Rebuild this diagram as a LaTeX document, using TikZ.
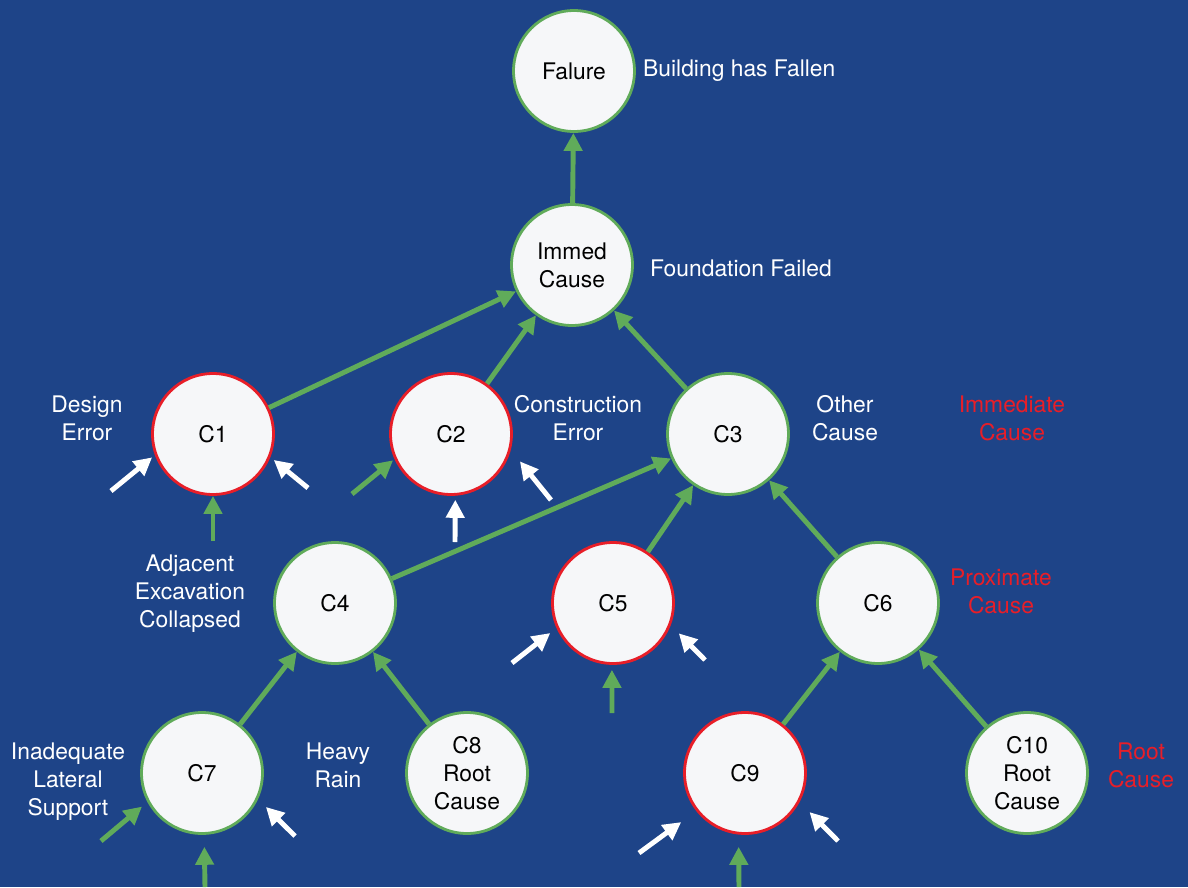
\documentclass[tikz,border=0pt]{standalone}
\usepackage{fontspec}
\setmainfont{TeX Gyre Heros}
\usepackage{tikz}
\usetikzlibrary{arrows.meta}
\usetikzlibrary{positioning}
\definecolor{bgblue}{RGB}{30,68,136}
\definecolor{edgegreen}{RGB}{96,171,90}
\definecolor{causered}{RGB}{232,30,40}
\definecolor{nodefill}{RGB}{246,247,249}
\tikzset{basic cause/.style={draw,circle,
                             fill=nodefill,
                             line width=1.6pt,
                             minimum size=2.42cm,
                             inner sep=0pt,
                             align=center}}
\tikzset{edge/.style={draw,
                      line width=2.8pt,
                      -{Triangle[length=0.36cm,width=0.36cm]}}}
\newcommand{\labfont}{\fontsize{13}{16}\selectfont}

\begin{document}
\begin{tikzpicture}
      [
      x=0.02cm,y=-0.02cm,
      cause/.style={basic cause,draw=#1,font=\labfont},
      note/.style={align=center,text=white,font=\labfont},
      ]

      % background
      \fill [bgblue] (0,0) rectangle (1188,887);
      \useasboundingbox (0,0) rectangle (1188,887);

      % vertices
      \foreach \n/\x/\y/\t/\c in
      {
      F/574/71/Falure/edgegreen,
      I/572/265/{Immed\\Cause}/edgegreen,
      C1/213/434/C1/causered,
      C2/451/434/C2/causered,
      C3/728/434/C3/edgegreen,
      C4/335/603/C4/edgegreen,
      C5/613/603/C5/causered,
      C6/878/603/C6/edgegreen,
      C7/202/773/C7/edgegreen,
      C8/467/773/{C8\\Root\\Cause}/edgegreen,
      C9/745/773/C9/causered,
      C10/1027/773/{C10\\Root\\Cause}/edgegreen}
      {
      \node [cause=\c] (\n) at (\x,\y) {\t};
      }

      % labels
      \node [note,anchor=west] (lF) at (637,71) {Building has Fallen};
      \node [note,anchor=west] (lI) at (644,268) {Foundation Failed};
      \foreach \n/\x/\y/\t/\c in
      {
      lC1/87/418/{Design\\Error}/white,
      lC2/578/418/{Construction\\Error}/white,
      lC3/845/418/{Other\\Cause}/white,
      lImm/1012/418/{Immediate\\Cause}/causered,
      lC4/190/594/{Adjacent\\Excavation\\Collapsed}/white,
      lProx/1001/591/{Proximate\\Cause}/causered,
      lC7/68/782/{Inadequate\\Lateral\\Support}/white,
      lC8/338/765/{Heavy\\Rain}/white,
      lRoot/1141/765/{Root\\Cause}/causered}
      {
      \node [note,text=\c] (\n) at (\x,\y) {\t};
      }

      % edges
      \foreach \a/\b in {I/F,C1/I,C2/I,C3/I,C4/C3,C5/C3,C6/C3,C7/C4,C8/C4,C9/C6,C10/C6}
      {
      \draw [edge,color=edgegreen] (\a) -- (\b);
      }

      % incoming edges
      \foreach \s/\x/\y/\t/\a/\g/\c in
      {
      sC1a/213/541/C1/270/0pt/edgegreen,
      sC1b/111/491/C1/200/2pt/white,
      sC1c/308/488/C1/338/2.5pt/white,
      sC2a/352/494/C2/204/1pt/edgegreen,
      sC2b/455/542/C2/274/2.3pt/white,
      sC2c/551/500/C2/345/8.3pt/white,
      sC5a/512/663/C5/204/4.5pt/white,
      sC5b/705/660/C5/339/6.5pt/white,
      sC5c/612/713/C5/269/2.8pt/edgegreen,
      sC7a/101/841/C7/208/4pt/edgegreen,
      sC7b/205/887/C7/272/6.8pt/edgegreen,
      sC7c/295/836/C7/335/6.3pt/white,
      sC9a/639/853/C9/218/10.6pt/white,
      sC9b/739/887/C9/264/7pt/edgegreen,
      sC9c/838/841/C9/332/8pt/white}
      {
      \coordinate (\s) at (\x,\y);
      \draw [edge,color=\c,shorten >=\g] (\s) -- (\t.\a);
      }

    \end{tikzpicture}
\end{document}
